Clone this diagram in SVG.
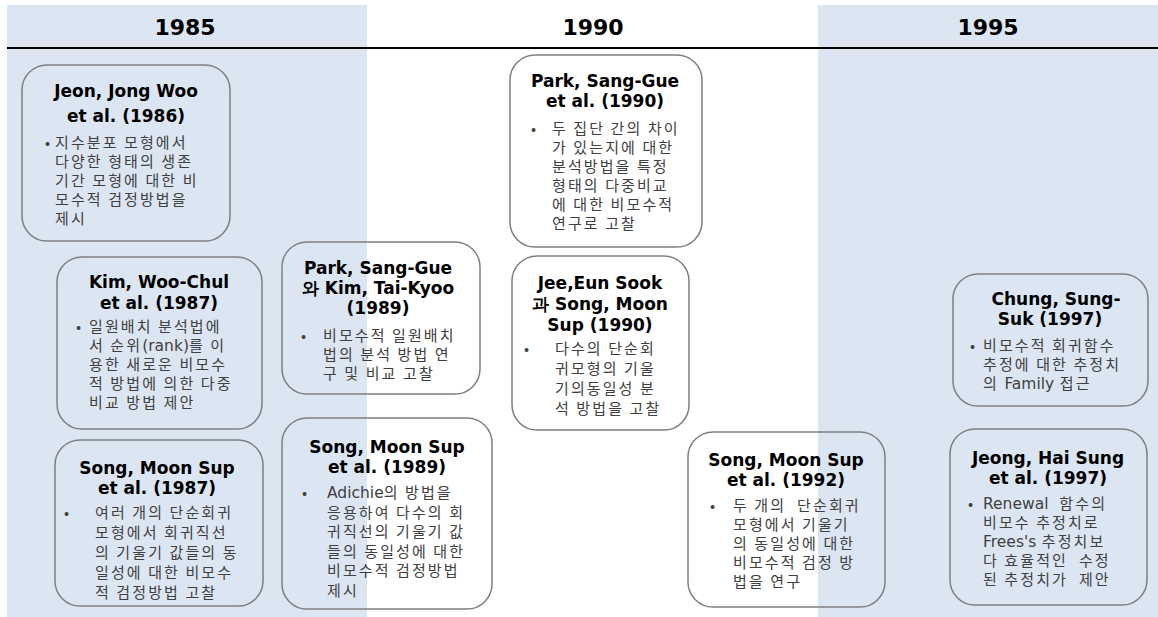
<svg xmlns="http://www.w3.org/2000/svg" width="1158" height="617" viewBox="0 0 1158 617">
<style>
.band{fill:#dce6f2}
.yr{font-family:"DejaVu Sans",Verdana,sans-serif;font-weight:bold;font-size:22px;fill:#000;text-anchor:middle}
.box{fill:none;stroke:#7f7f7f;stroke-width:1.5}
.t{font-family:"DejaVu Sans",Verdana,sans-serif;font-weight:bold;font-size:17px;fill:#000;text-anchor:middle}
.b{font-family:"Noto Sans CJK KR","DejaVu Sans",sans-serif;font-size:15px;letter-spacing:2.1px;fill:#404040}
.l{font-family:"DejaVu Sans",Verdana,sans-serif;font-size:15.5px;letter-spacing:0}
</style>
<rect class="band" x="7" y="5" width="360" height="612"/>
<rect class="band" x="818" y="5" width="340" height="612"/>
<g id="timeline">
<line x1="7" y1="48" x2="1158" y2="48" stroke="#000" stroke-width="2"/>
<text class="yr" x="185" y="35">1985</text>
<text class="yr" x="593" y="35">1990</text>
<text class="yr" x="988" y="35">1995</text>
</g>
<g id="connectors"></g>
<g id="jeon1986">
<rect class="box" x="22" y="65" width="208" height="176" rx="25"/>
<text class="t"><tspan x="126" y="97">Jeon, Jong Woo</tspan><tspan x="126" y="122">et al. (1986)</tspan></text>
<text class="b" x="45" y="148">•</text>
<text class="b"><tspan x="55" y="148">지수분포 모형에서</tspan><tspan x="55" y="167">다양한 형태의 생존</tspan><tspan x="55" y="186">기간 모형에 대한 비</tspan><tspan x="55" y="205">모수적 검정방법을</tspan><tspan x="55" y="224">제시</tspan></text>
</g>
<g id="park1990">
<rect class="box" x="510" y="55" width="192" height="192" rx="25"/>
<text class="t"><tspan x="605" y="87">Park, Sang-Gue</tspan><tspan x="605" y="107">et al. (1990)</tspan></text>
<text class="b" x="531" y="134">•</text>
<text class="b"><tspan x="552" y="134">두 집단 간의 차이</tspan><tspan x="552" y="153">가 있는지에 대한</tspan><tspan x="552" y="172">분석방법을 특정</tspan><tspan x="552" y="191">형태의 다중비교</tspan><tspan x="552" y="210">에 대한 비모수적</tspan><tspan x="552" y="229">연구로 고찰</tspan></text>
</g>
<g id="kim1987">
<rect class="box" x="57" y="257" width="205" height="172" rx="25"/>
<text class="t"><tspan x="159" y="288">Kim, Woo-Chul</tspan><tspan x="159" y="309">et al. (1987)</tspan></text>
<text class="b" x="76" y="332">•</text>
<text class="b"><tspan x="89" y="332">일원배치 분석법에</tspan><tspan x="89" y="351">서 순위<tspan class="l">(rank)</tspan>를 이</tspan><tspan x="89" y="370">용한 새로운 비모수</tspan><tspan x="89" y="389">적 방법에 의한 다중</tspan><tspan x="89" y="408">비교 방법 제안</tspan></text>
</g>
<g id="parkkim1989">
<rect class="box" x="282" y="242" width="198" height="152" rx="25"/>
<text class="t"><tspan x="378" y="274">Park, Sang-Gue</tspan><tspan x="378" y="294">와 Kim, Tai-Kyoo</tspan><tspan x="378" y="314">(1989)</tspan></text>
<text class="b" x="301" y="341">•</text>
<text class="b"><tspan x="323" y="341">비모수적 일원배치</tspan><tspan x="323" y="360">법의 분석 방법 연</tspan><tspan x="323" y="379">구 및 비교 고찰</tspan></text>
</g>
<g id="jeesong1990">
<rect class="box" x="512" y="256" width="177" height="174" rx="25"/>
<text class="t"><tspan x="600" y="289">Jee,Eun Sook</tspan><tspan x="600" y="310">과 Song, Moon</tspan><tspan x="600" y="331">Sup (1990)</tspan></text>
<text class="b" x="524" y="354">•</text>
<text class="b"><tspan x="555" y="354">다수의 단순회</tspan><tspan x="555" y="374">귀모형의 기울</tspan><tspan x="555" y="394">기의동일성 분</tspan><tspan x="555" y="414">석 방법을 고찰</tspan></text>
</g>
<g id="chung1997">
<rect class="box" x="953" y="274" width="195" height="132" rx="25"/>
<text class="t"><tspan x="1056" y="305">Chung, Sung-</tspan><tspan x="1050" y="325">Suk (1997)</tspan></text>
<text class="b" x="970" y="351">•</text>
<text class="b"><tspan x="983" y="351">비모수적 회귀함수</tspan><tspan x="983" y="370">추정에 대한 추정치</tspan><tspan x="983" y="389">의 <tspan class="l">Family</tspan> 접근</tspan></text>
</g>
<g id="song1987">
<rect class="box" x="55" y="440" width="208" height="166" rx="25"/>
<text class="t"><tspan x="157" y="474">Song, Moon Sup</tspan><tspan x="157" y="494">et al. (1987)</tspan></text>
<text class="b" x="64" y="518">•</text>
<text class="b"><tspan x="95" y="518">여러 개의 단순회귀</tspan><tspan x="95" y="538">모형에서 회귀직선</tspan><tspan x="95" y="558">의 기울기 값들의 동</tspan><tspan x="95" y="578">일성에 대한 비모수</tspan><tspan x="95" y="598">적 검정방법 고찰</tspan></text>
</g>
<g id="song1989">
<rect class="box" x="282" y="418" width="210" height="191" rx="25"/>
<text class="t"><tspan x="387" y="453">Song, Moon Sup</tspan><tspan x="387" y="473">et al. (1989)</tspan></text>
<text class="b" x="302" y="498">•</text>
<text class="b"><tspan x="327" y="498"><tspan class="l">Adichie</tspan>의 방법을</tspan><tspan x="327" y="518">응용하여 다수의 회</tspan><tspan x="327" y="537">귀직선의 기울기 값</tspan><tspan x="327" y="557">들의 동일성에 대한</tspan><tspan x="327" y="576">비모수적 검정방법</tspan><tspan x="327" y="596">제시</tspan></text>
</g>
<g id="song1992">
<rect class="box" x="688" y="432" width="197" height="175" rx="25"/>
<text class="t"><tspan x="786" y="466">Song, Moon Sup</tspan><tspan x="786" y="486">et al. (1992)</tspan></text>
<text class="b" x="710" y="511">•</text>
<text class="b" xml:space="preserve"><tspan x="733" y="511">두 개의  단순회귀</tspan><tspan x="733" y="530">모형에서 기울기</tspan><tspan x="733" y="549">의 동일성에 대한</tspan><tspan x="733" y="568">비모수적 검정 방</tspan><tspan x="733" y="587">법을 연구</tspan></text>
</g>
<g id="jeong1997">
<rect class="box" x="950" y="429" width="197" height="176" rx="25"/>
<text class="t"><tspan x="1048" y="464">Jeong, Hai Sung</tspan><tspan x="1048" y="484">et al. (1997)</tspan></text>
<text class="b" x="968" y="509">•</text>
<text class="b" xml:space="preserve"><tspan x="983" y="509"><tspan class="l">Renewal</tspan>  함수의</tspan><tspan x="983" y="528">비모수 추정치로</tspan><tspan x="983" y="547"><tspan class="l">Frees's</tspan> 추정치보</tspan><tspan x="983" y="566">다 효율적인  수정</tspan><tspan x="983" y="585">된 추정치가  제안</tspan></text>
</g>
</svg>
